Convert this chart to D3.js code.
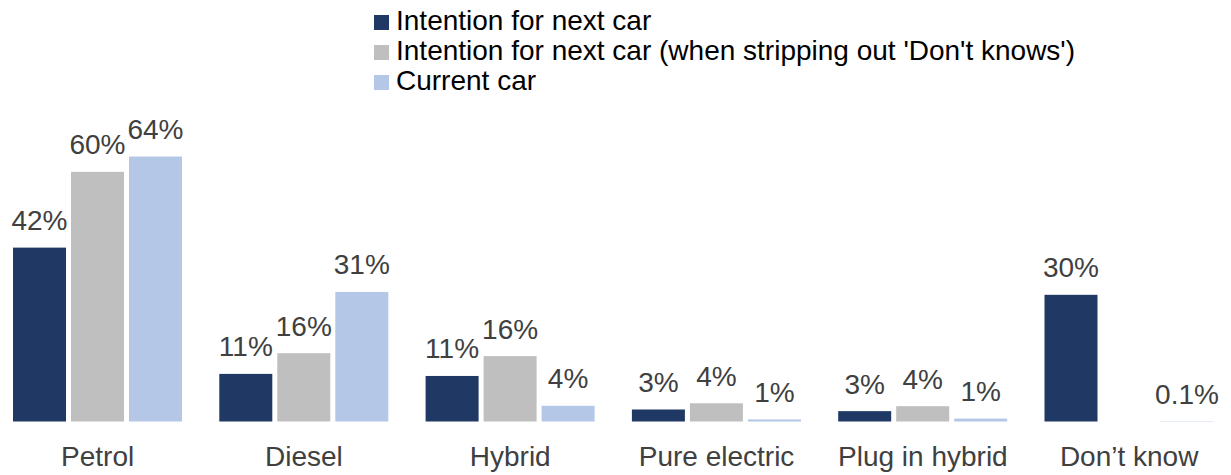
<!DOCTYPE html>
<html>
<head>
    <script src="https://cdnjs.cloudflare.com/ajax/libs/d3/7.8.5/d3.min.js"></script>
    <style>
        body { margin: 0; padding: 0; background: white; }
        svg { display: block; font-family: "Liberation Sans", Arial, sans-serif; }
    </style>
</head>
<body>
    <svg id="chart" width="1231" height="475"></svg>
    <script>
        // Data
        const categories = ['Petrol', 'Diesel', 'Hybrid', 'Pure electric', 'Plug in hybrid', 'Don\u2019t know'];
        const seriesNames = [
            'Intention for next car',
            "Intention for next car (when stripping out 'Don't knows')",
            'Current car'
        ];
        const intentionNext = [42, 11.5, 11, 2.9, 2.5, 30.6];
        const intentionStripped = [60.3, 16.5, 15.8, 4.4, 3.7, null];
        const currentCar = [64, 31.3, 3.8, 0.5, 0.7, 0.1];
        const intentionNextLabels = ['42%', '11%', '11%', '3%', '3%', '30%'];
        const intentionStrippedLabels = ['60%', '16%', '16%', '4%', '4%', null];
        const currentCarLabels = ['64%', '31%', '4%', '1%', '1%', '0.1%'];

        const colors = ['#1f3864', '#bfbfbf', '#b4c7e7'];
        const seriesValues = [intentionNext, intentionStripped, currentCar];
        const seriesLabels = [intentionNextLabels, intentionStrippedLabels, currentCarLabels];

        const svg = d3.select('#chart');

        // Scales
        const x0 = d3.scaleBand()
            .domain(categories)
            .range([-5.5, -5.5 + 206.3 * categories.length]);

        const x1 = d3.scaleBand()
            .domain(d3.range(seriesNames.length))
            .range([18.5, 187.5])
            .paddingInner(5 / 58);

        const y = d3.scaleLinear()
            .domain([0, 70])
            .range([421.5, 421.5 - 70 * 4.14]);

        // Flatten into bar records
        const bars = [];
        categories.forEach((cat, i) => {
            seriesValues.forEach((vals, s) => {
                if (vals[i] != null) {
                    bars.push({ cat, s, value: vals[i], label: seriesLabels[s][i] });
                }
            });
        });

        const groups = svg.append('g');

        groups.selectAll('rect')
            .data(bars)
            .join('rect')
            .attr('x', d => x0(d.cat) + x1(d.s))
            .attr('y', d => y(d.value))
            .attr('width', x1.bandwidth())
            .attr('height', d => Math.max(y(0) - y(d.value), 1))
            .attr('fill', d => colors[d.s])
            .attr('fill-opacity', d => d.value < 0.2 ? 0.35 : 1);

        // Data labels
        groups.selectAll('text.value')
            .data(bars)
            .join('text')
            .attr('class', 'value')
            .attr('x', d => x0(d.cat) + x1(d.s) + x1.bandwidth() / 2)
            .attr('y', d => y(d.value) - 17.5)
            .attr('text-anchor', 'middle')
            .attr('font-size', '28px')
            .attr('fill', '#404040')
            .text(d => d.label);

        // Category labels
        svg.append('g')
            .selectAll('text')
            .data(categories)
            .join('text')
            .attr('x', d => x0(d) + x0.bandwidth() / 2)
            .attr('y', 466)
            .attr('text-anchor', 'middle')
            .attr('font-size', '28px')
            .attr('fill', '#404040')
            .text(d => d);

        // Legend
        const legend = svg.append('g')
            .selectAll('g')
            .data(seriesNames)
            .join('g')
            .attr('transform', (d, i) => `translate(374, ${15 + i * 30})`);

        legend.append('rect')
            .attr('width', 15)
            .attr('height', 15)
            .attr('fill', (d, i) => colors[i]);

        legend.append('text')
            .attr('x', 22)
            .attr('y', 15)
            .attr('font-size', '28px')
            .attr('fill', '#000')
            .text(d => d);
    </script>
</body>
</html>
